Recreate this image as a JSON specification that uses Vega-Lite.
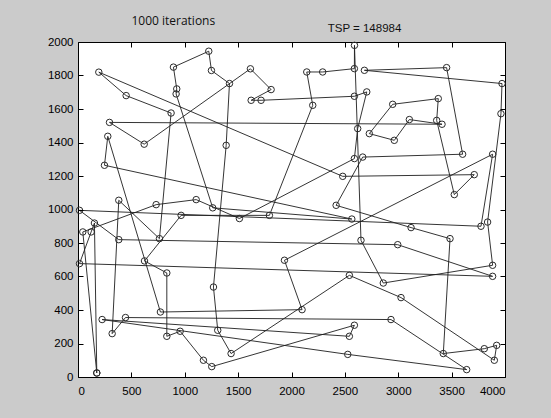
{
  "$schema": "https://vega.github.io/schema/vega-lite/v6.json",
  "width": 427,
  "height": 335,
  "autosize": "none",
  "padding": {"left": 78, "top": 42, "right": 46, "bottom": 41},
  "background": "#cbcbcb",
  "title": {"text": "1000 iterations", "anchor": "start", "dx": 84, "dy": 6, "offset": 0, "font": "Open Sans", "fontSize": 12, "fontWeight": "normal", "color": "#111"},
  "data": {"values": [
    {"o":1,"x":176,"y":24},{"o":2,"x":154,"y":919},{"o":3,"x":123,"y":866},{"o":4,"x":14,"y":677},
    {"o":5,"x":3884,"y":601},{"o":6,"x":2995,"y":790},{"o":7,"x":382,"y":820},{"o":8,"x":14,"y":995},
    {"o":9,"x":3775,"y":900},{"o":10,"x":3884,"y":1330},{"o":11,"x":1934,"y":697},{"o":12,"x":2099,"y":402},
    {"o":13,"x":772,"y":388},{"o":14,"x":279,"y":1437},{"o":15,"x":248,"y":1264},{"o":16,"x":2565,"y":943},
    {"o":17,"x":1262,"y":1010},{"o":18,"x":919,"y":1690},{"o":19,"x":925,"y":1720},{"o":20,"x":894,"y":1850},
    {"o":21,"x":1225,"y":1945},{"o":22,"x":1250,"y":1830},{"o":23,"x":1419,"y":1752},{"o":24,"x":1388,"y":1383},
    {"o":25,"x":1269,"y":537},{"o":26,"x":1309,"y":279},{"o":27,"x":1434,"y":140},{"o":28,"x":2542,"y":607},
    {"o":29,"x":3026,"y":474},{"o":30,"x":3900,"y":100},{"o":31,"x":3922,"y":189},{"o":32,"x":3806,"y":169},
    {"o":33,"x":3422,"y":140},{"o":34,"x":3485,"y":826},{"o":35,"x":3120,"y":892},{"o":36,"x":2418,"y":1025},
    {"o":37,"x":2667,"y":1313},{"o":38,"x":3603,"y":1330},{"o":39,"x":3453,"y":1847},{"o":40,"x":2683,"y":1831},
    {"o":41,"x":3972,"y":1752},{"o":42,"x":3962,"y":1572},{"o":43,"x":3837,"y":925},{"o":44,"x":3884,"y":667},
    {"o":45,"x":2860,"y":561},{"o":46,"x":2651,"y":816},{"o":47,"x":2590,"y":1980},{"o":48,"x":2589,"y":1841},
    {"o":49,"x":2292,"y":1821},{"o":50,"x":2143,"y":1821},{"o":51,"x":2199,"y":1622},{"o":52,"x":1793,"y":965},
    {"o":53,"x":966,"y":965},{"o":54,"x":623,"y":693},{"o":55,"x":832,"y":621},{"o":56,"x":832,"y":243},
    {"o":57,"x":957,"y":273},{"o":58,"x":1175,"y":100},{"o":59,"x":1253,"y":62},{"o":60,"x":2589,"y":309},
    {"o":61,"x":2542,"y":243},{"o":62,"x":226,"y":343},{"o":63,"x":2527,"y":135},{"o":64,"x":3641,"y":44},
    {"o":65,"x":2932,"y":343},{"o":66,"x":445,"y":355},{"o":67,"x":320,"y":259},{"o":68,"x":382,"y":1055},
    {"o":69,"x":763,"y":826},{"o":70,"x":872,"y":1576},{"o":71,"x":451,"y":1680},{"o":72,"x":195,"y":1820},
    {"o":73,"x":2480,"y":1198},{"o":74,"x":3712,"y":1208},{"o":75,"x":3525,"y":1089},{"o":76,"x":3360,"y":1532},
    {"o":77,"x":3375,"y":1662},{"o":78,"x":2948,"y":1628},{"o":79,"x":2729,"y":1453},{"o":80,"x":2963,"y":1413},
    {"o":81,"x":3104,"y":1537},{"o":82,"x":3410,"y":1509},{"o":83,"x":295,"y":1520},{"o":84,"x":620,"y":1390},
    {"o":85,"x":1615,"y":1840},{"o":86,"x":1809,"y":1716},{"o":87,"x":1622,"y":1652},{"o":88,"x":1715,"y":1652},
    {"o":89,"x":2589,"y":1676},{"o":90,"x":2705,"y":1702},{"o":91,"x":2620,"y":1483},{"o":92,"x":2589,"y":1304},
    {"o":93,"x":1512,"y":946},{"o":94,"x":1107,"y":1059},{"o":95,"x":732,"y":1029},{"o":96,"x":45,"y":866},
    {"o":97,"x":176,"y":24}
  ]},
  "layer": [
    {
      "mark": {"type": "line", "color": "#1e1e1e", "strokeWidth": 0.9, "clip": true},
      "encoding": {
        "x": {"field": "x", "type": "quantitative", "scale": {"domain": [0, 4000], "nice": false, "zero": false},
              "axis": {"orient": "bottom", "offset": -5, "zindex": 2, "ticks": true, "tickSize": 5, "tickColor": "black", "tickOpacity": 1, "tickWidth": 1, "values": [0,500,1000,1500,2000,2500,3000,3500,4000], "format": "d", "title": null, "labelPadding": 8}},
        "y": {"field": "y", "type": "quantitative", "scale": {"domain": [0, 2000], "nice": false, "zero": false},
              "axis": {"orient": "left", "offset": -5, "zindex": 2, "ticks": true, "tickSize": 5, "tickColor": "black", "tickOpacity": 1, "tickWidth": 1, "values": [0,200,400,600,800,1000,1200,1400,1600,1800,2000], "format": "d", "title": null, "labelPadding": 5}},
        "order": {"field": "o", "type": "quantitative"}
      }
    },
    {
      "mark": {"type": "point", "shape": "circle", "filled": false, "size": 42, "stroke": "#2a2a2a", "strokeWidth": 1, "opacity": 1},
      "encoding": {
        "x": {"field": "x", "type": "quantitative", "scale": {"domain": [0, 4000], "nice": false, "zero": false},
              "axis": {"orient": "top", "offset": -5, "zindex": 2, "ticks": true, "tickSize": 5, "tickColor": "black", "tickOpacity": 1, "tickWidth": 1, "values": [0,500,1000,1500,2000,2500,3000,3500,4000], "labels": false, "title": "TSP = 148984",
                       "titleX": 286, "titleY": -16, "titleBaseline": "alphabetic", "titleAlign": "center", "titleFont": "Liberation Sans", "titleFontSize": 11.5, "titleFontWeight": "normal", "titleColor": "#111"}},
        "y": {"field": "y", "type": "quantitative", "scale": {"domain": [0, 2000], "nice": false, "zero": false},
              "axis": {"orient": "right", "offset": -5, "zindex": 2, "ticks": true, "tickSize": 5, "tickColor": "black", "tickOpacity": 1, "tickWidth": 1, "values": [0,200,400,600,800,1000,1200,1400,1600,1800,2000], "labels": false, "title": null}}
      }
    }
  ],
  "resolve": {"axis": {"x": "independent", "y": "independent"}},
  "config": {
    "view": {"stroke": "#000", "strokeWidth": 1, "fill": "white"},
    "axis": {"domain": false, "grid": false,
             "labelFont": "Liberation Sans", "labelFontSize": 11.5, "labelColor": "#000"}
  }
}
